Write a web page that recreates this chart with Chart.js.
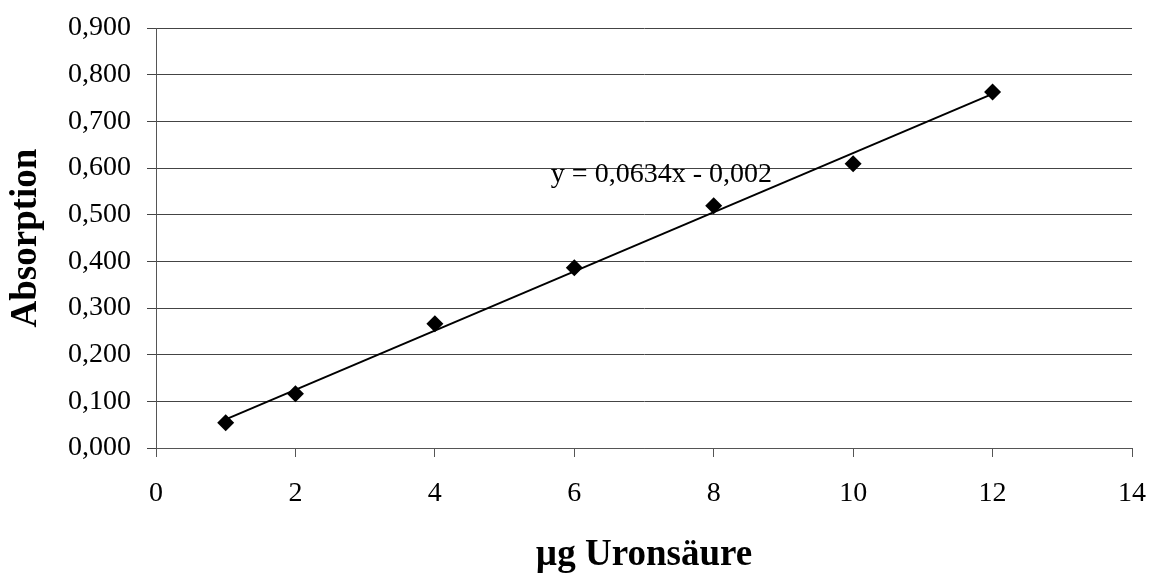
<!DOCTYPE html>
<html>
<head>
<meta charset="utf-8">
<script src="https://cdn.jsdelivr.net/npm/chart.js@4"></script>
<style>
  html, body { margin: 0; padding: 0; background: #fff; }
  canvas { display: block; }
</style>
</head>
<body>
<canvas id="chart" width="1152" height="576"></canvas>
<script>
// --- Data ---
const ugUronic   = [1, 2, 4, 6, 8, 10, 12];
const absorption = [0.054, 0.116, 0.266, 0.386, 0.519, 0.609, 0.763];

// linear trend y = 0,0634x - 0,002, endpoints at first and last sample
const trendX = [1, 12];
const trendY = [0.0614, 0.7588];
const trendLabel = 'y = 0,0634x - 0,002';

const xTitle = 'µg Uronsäure';
const yTitle = 'Absorption';

const FONT = '"Liberation Serif", "Times New Roman", serif';

const points = ugUronic.map((x, i) => ({ x, y: absorption[i] }));
const trend  = trendX.map((x, i) => ({ x, y: trendY[i] }));

// zero the label overflow padding so layout.padding alone sets the plot box
function noOverflow(s) {
  s.paddingTop = 0;
  s.paddingBottom = 0;
  s.paddingLeft = 0;
  s.paddingRight = 0;
}

// --- Chart ---
new Chart(document.getElementById('chart'), {
  type: 'scatter',
  data: {
    datasets: [
      {
        label: 'Messwerte',
        data: points,
        pointStyle: 'rectRot',
        pointRadius: 8.5,
        backgroundColor: '#000',
        borderColor: '#000',
        borderWidth: 0,
        order: 1,
      },
      {
        type: 'line',
        label: 'Trend',
        data: trend,
        borderColor: '#000',
        borderWidth: 2,
        pointRadius: 0,
        fill: false,
        order: 2,
      },
    ]
  },
  options: {
    responsive: false,
    devicePixelRatio: 1,
    animation: false,
    layout: { padding: { top: 28, right: 20, left: 0, bottom: 0 } },
    plugins: { legend: { display: false }, tooltip: { enabled: false } },
    scales: {
      x: {
        type: 'linear',
        min: 0,
        max: 14,
        ticks: {
          stepSize: 2,
          color: '#000',
          padding: 20,
          font: { family: FONT, size: 28 },
        },
        grid: { drawOnChartArea: false, drawTicks: true, tickLength: 9, color: '#555' },
        border: { color: '#555', width: 1 },
        title: {
          display: true,
          text: xTitle,
          color: '#000',
          font: { family: FONT, size: 37, weight: 'bold' },
          padding: { top: 0, bottom: -2 },
        },
        afterFit: s => { s.height = 128; noOverflow(s); },
      },
      y: {
        min: 0,
        max: 0.9,
        ticks: {
          stepSize: 0.1,
          color: '#000',
          padding: 16,
          font: { family: FONT, size: 28 },
          callback: v => v.toFixed(3).replace('.', ','),
        },
        grid: { color: '#444', lineWidth: 1, tickLength: 9 },
        border: { color: '#555', width: 1 },
        title: {
          display: true,
          text: yTitle,
          color: '#000',
          font: { family: FONT, size: 37, weight: 'bold' },
          padding: { top: 4, bottom: 4 },
        },
        afterFit: s => { s.width = 156; noOverflow(s); },
      },
    },
  },
  plugins: [{
    id: 'trendLabel',
    afterDatasetsDraw(chart) {
      const { ctx, scales } = chart;
      const x = scales.x.getPixelForValue(7.25);
      const y = scales.y.getPixelForValue(0.585);
      ctx.save();
      ctx.font = '28px ' + FONT;
      ctx.fillStyle = '#000';
      ctx.textAlign = 'center';
      ctx.textBaseline = 'middle';
      ctx.fillText(trendLabel, x, y);
      ctx.restore();
    }
  }]
});
</script>
</body>
</html>
